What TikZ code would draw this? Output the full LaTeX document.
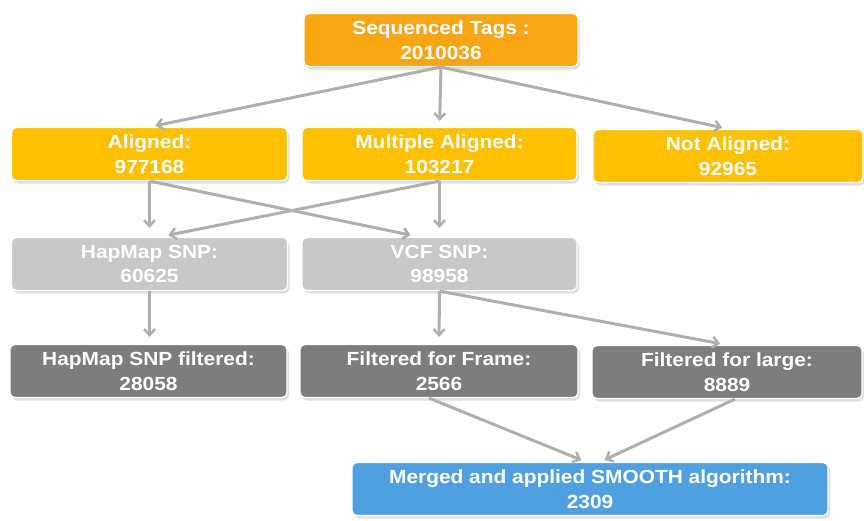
\documentclass[tikz,border=0pt]{standalone}
\usepackage{fontspec}
\setmainfont{Liberation Sans}[FakeStretch=1.1]
\usetikzlibrary{arrows.meta,calc,shadows}
\definecolor{cOrange}{RGB}{250,165,20}
\definecolor{cYellow}{RGB}{255,192,0}
\definecolor{cLight}{RGB}{200,200,200}
\definecolor{cDark}{RGB}{125,125,125}
\definecolor{cBlue}{RGB}{80,160,225}
\definecolor{cArrow}{RGB}{175,175,175}
\tikzset{
  box/.style={rounded corners=5pt, draw=white, line width=1.2pt, text=white,
    font=\fontsize{19}{24.5}\selectfont\bfseries, align=center, inner sep=0pt,
    minimum height=53pt,
    drop shadow={opacity=0.25, shadow xshift=2pt, shadow yshift=-3pt}},
  conn/.style={draw=cArrow, line width=3pt, -{Straight Barb[length=6pt,width=11pt,line width=2.5pt]}, shorten >=6pt}
}
\begin{document}
\begin{tikzpicture}[x=1pt,y=-1pt]
\useasboundingbox (0,0) rectangle (864,520);
\node[box, fill=cOrange, minimum width=274pt] (seq) at (441,40) {Sequenced Tags :\\2010036};
\node[box, fill=cYellow, minimum width=276pt] (al) at (149.5,154) {Aligned:\\977168};
\node[box, fill=cYellow, minimum width=275pt] (mul) at (439.5,154) {Multiple Aligned:\\103217};
\node[box, fill=cYellow, minimum width=270pt] (nal) at (728,156) {Not Aligned:\\92965};
\node[box, fill=cLight, minimum width=276pt] (hap) at (149.5,264) {HapMap SNP:\\60625};
\node[box, fill=cLight, minimum width=275pt] (vcf) at (439.5,264) {VCF SNP:\\98958};
\node[box, fill=cDark, minimum width=277pt] (hf) at (148.5,371) {HapMap SNP filtered:\\28058};
\node[box, fill=cDark, minimum width=278pt] (ff) at (439,371) {Filtered for Frame:\\2566};
\node[box, fill=cDark, minimum width=270pt] (fl) at (727,372) {Filtered for large:\\8889};
\node[box, fill=cBlue, minimum width=476pt] (mer) at (590,489) {Merged and applied SMOOTH algorithm:\\2309};

\draw[conn] (seq.south) -- (al.north);
\draw[conn] (seq.south) -- (mul.north);
\draw[conn] (seq.south) -- (nal.north);
\draw[conn, shorten >=9pt] (al.south) -- (hap.north);
\draw[conn, shorten >=9pt] (al.south) -- ($(vcf.north)+(-20,0)$);
\draw[conn, shorten >=9pt] (mul.south) -- ($(hap.north)+(10,0)$);
\draw[conn, shorten >=9pt] (mul.south) -- (vcf.north);
\draw[conn, shorten >=7pt] (hap.south) -- ($(hf.north)+(1,0)$);
\draw[conn, shorten >=7pt] (vcf.south) -- (ff.north);
\draw[conn, shorten >=7pt] (vcf.south) -- (fl.north);
\draw[conn, shorten >=5pt] ($(ff.south)+(-10,0)$) -- ($(mer.north)+(-4,0)$);
\draw[conn, shorten >=5pt] ($(fl.south)+(8,0)$) -- ($(mer.north)+(10,0)$);
\end{tikzpicture}
\end{document}
